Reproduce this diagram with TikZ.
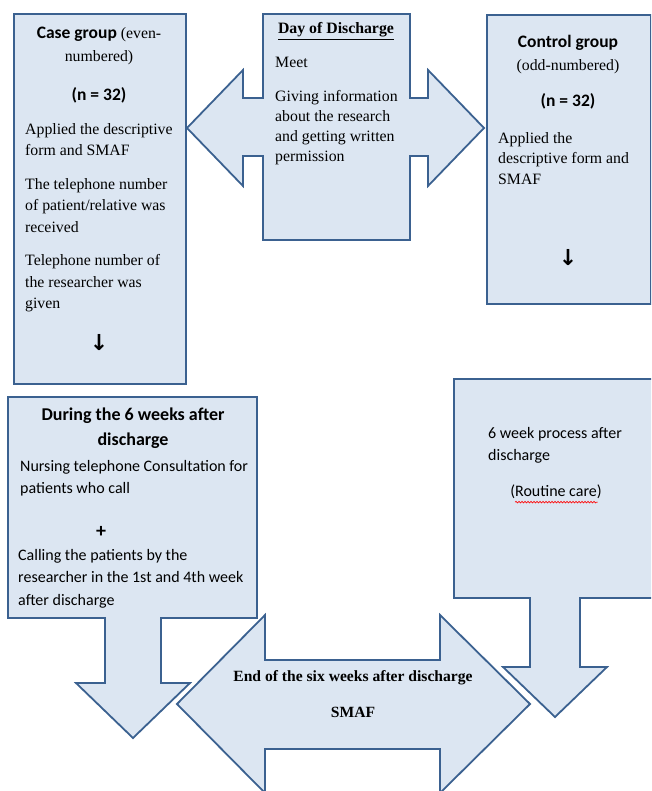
\documentclass[tikz,border=0pt]{standalone}
\usepackage{fontspec}
\setmainfont{Liberation Serif}
\newfontfamily\calfont{Carlito}
\newfontfamily\symfont{DejaVu Sans}
\usepackage{xcolor}
\usepackage{tikz}
\usetikzlibrary{positioning, decorations.pathmorphing}

\definecolor{boxfill}{HTML}{DCE6F2}
\definecolor{boxline}{HTML}{3B6190}
\newcommand{\calb}{\calfont\bfseries\fontsize{17.5}{23}\selectfont}

\begin{document}
\begin{tikzpicture}[x=1pt, y=-1pt,
    panel/.style={draw=boxline, line width=1.8pt, fill=boxfill},
    txt/.style={inner sep=0pt, align=left, font=\fontsize{15.8}{21.5}\selectfont},
    caltxt/.style={inner sep=0pt, align=left, font=\calfont\fontsize{16}{22.5}\selectfont},
    headtxt/.style={inner sep=0pt, align=center, font=\calfont\bfseries\fontsize{17.5}{25}\selectfont},
    downsym/.style={inner sep=0pt, font=\symfont\bfseries\fontsize{22}{22}\selectfont}]
    \useasboundingbox (0,0) rectangle (651,791);
    \clip (0,0) rectangle (651,791);

    % day of discharge
    \node[panel, anchor=north west, minimum width=172pt, minimum height=370pt] (casebox) at (13,13) {};
    \node[panel, anchor=north west, minimum width=164pt, minimum height=289pt] (ctrlbox) at (486,14) {};
    \draw[panel] (263,14) -- (410,14) -- (410,98) -- (428,98) -- (428,70) -- (484,128) -- (428,186) -- (428,156) -- (410,156) -- (410,240)
        -- (263,240) -- (263,156) -- (243,156) -- (243,186) -- (187,128) -- (243,70) -- (243,98) -- (263,98) -- cycle;

    \node[txt, anchor=north, align=center, font=\fontsize{15.8}{23}\selectfont] (casehead) at (99,27) {{\calb Case group} (even-\\numbered)};
    \node[headtxt] (casen) at (99,95) {(n = 32)};
    \node[txt, anchor=north west] (casebody) at (25,123) {Applied the descriptive\\form and SMAF\\[12pt]The telephone number\\of patient/relative was\\received\\[12pt]Telephone number of\\the researcher was\\given};
    \node[downsym] (casedown) at (99,343) {↓};

    \node[txt, font=\bfseries\fontsize{15.8}{20}\selectfont] (dayhead) at (336,31) {\underline{Day of Discharge}};
    \node[txt, anchor=north west, font=\fontsize{15.8}{20}\selectfont] (daybody) at (275,57) {Meet\\[14pt]Giving information\\about the research\\and getting written\\permission};

    \node[headtxt] (ctrlhead) at (568,43) {Control group};
    \node[txt] (ctrlodd) at (568,67) {(odd-numbered)};
    \node[headtxt] (ctrln) at (568,101) {(n = 32)};
    \node[txt, anchor=north west, font=\fontsize{15.8}{20.5}\selectfont] (ctrlbody) at (498,132) {Applied the\\descriptive form and\\SMAF};
    \node[downsym] (ctrldown) at (568,258) {↓};

    % six weeks
    \draw[panel] (8,397) -- (257,397) -- (257,618) -- (161,618) -- (161,683) -- (190,683) -- (133,738) -- (76,683) -- (105,683) -- (105,618) -- (8,618) -- cycle;
    \draw[panel] (454,379) -- (660,379) -- (660,598) -- (580,598) -- (580,667) -- (607,667) -- (555,717) -- (503,667) -- (530,667) -- (530,598) -- (454,598) -- cycle;

    \node[headtxt, anchor=north, font=\calfont\bfseries\fontsize{18}{25}\selectfont] (durhead) at (133,408) {During the 6 weeks after\\discharge};
    \node[caltxt, anchor=north west] (durbody) at (20,460) {Nursing telephone Consultation for\\patients who call};
    \node[headtxt, font=\calfont\bfseries\fontsize{20}{25}\selectfont] (durplus) at (101,532) {+};
    \node[caltxt, anchor=north west] (durcall) at (18,549) {Calling the patients by the\\researcher in the 1st and 4th week\\after discharge};

    \node[caltxt, anchor=north west] (routbody) at (488,427) {6 week process after\\discharge};
    \node[caltxt] (routcare) at (556,492) {(Routine care)};
    \draw[red, line width=0.6pt, decorate, decoration={snake, amplitude=0.8pt, segment length=3pt}]
        ([shift={(5,3)}]routcare.south west) -- ([shift={(-4,3)}]routcare.south east);

    % end
    \draw[panel] (177,704) -- (265,615) -- (265,660) -- (440,660) -- (440,615) -- (530,704) -- (440,793) -- (440,749) -- (265,749) -- (265,793) -- cycle;
    \node[txt, font=\bfseries\fontsize{15.6}{20}\selectfont] (endhead) at (353,678) {End of the six weeks after discharge};
    \node[txt, font=\bfseries\fontsize{15.6}{20}\selectfont] (endsmaf) at (353,712) {SMAF};
\end{tikzpicture}
\end{document}
